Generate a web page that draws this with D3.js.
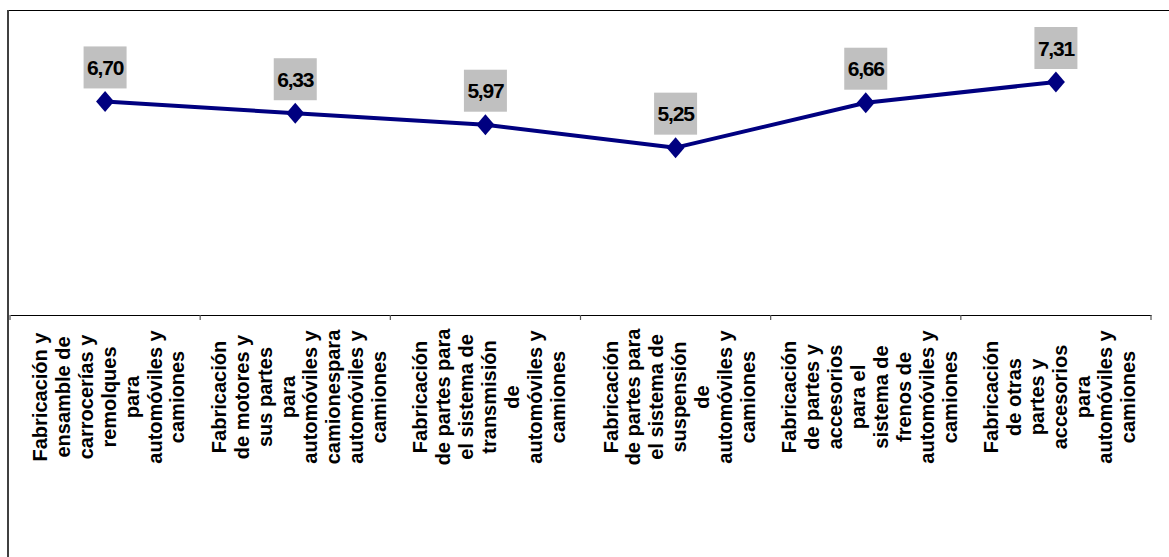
<!DOCTYPE html>
<html>
<head>
<meta charset="utf-8">
<script src="https://cdn.jsdelivr.net/npm/d3@7"></script>
<style>
  html, body { margin: 0; padding: 0; background: #ffffff; }
  svg { display: block; }
</style>
</head>
<body>
<svg id="chart" width="1169" height="557"></svg>
<script>
const categories = [
  ["Fabricación y", "ensamble de", "carrocerías y", "remolques", "para", "automóviles y", "camiones"],
  ["Fabricación", "de motores y", "sus partes", "para", "automóviles y", "camionespara", "automóviles y", "camiones"],
  ["Fabricación", "de partes para", "el sistema de", "transmisión", "de", "automóviles y", "camiones"],
  ["Fabricación", "de partes para", "el sistema de", "suspensión", "de", "automóviles y", "camiones"],
  ["Fabricación", "de partes y", "accesorios", "para el", "sistema de", "frenos de", "automóviles y", "camiones"],
  ["Fabricación", "de otras", "partes y", "accesorios", "para", "automóviles y", "camiones"]
];
const values = [6.70, 6.33, 5.97, 5.25, 6.66, 7.31];
const valueLabels = ["6,70", "6,33", "5,97", "5,25", "6,66", "7,31"];

const svg = d3.select("#chart");
const font = "'Liberation Sans', Arial, sans-serif";

// outer frame
svg.append("line").attr("x1", 8).attr("x2", 1169).attr("y1", 10.5).attr("y2", 10.5)
  .attr("stroke", "#000").attr("stroke-width", 1.2);
svg.append("line").attr("x1", 8).attr("x2", 8).attr("y1", 10).attr("y2", 557)
  .attr("stroke", "#404040").attr("stroke-width", 2);

const idx = d3.range(categories.length);
const x = d3.scaleBand().domain(idx).range([10, 1151]).padding(0);
const y = d3.scaleLinear().domain([0, 8]).range([315, 60]);

// category axis
const axis = d3.axisBottom(x).tickSize(0).tickFormat("");
const axG = svg.append("g").attr("transform", "translate(0,315)").call(axis);
axG.select(".domain").attr("stroke", "#000").attr("stroke-width", 1.2);
// tick marks at band boundaries
const bounds = idx.map(i => x(i)).concat([x(idx[idx.length - 1]) + x.bandwidth()]);
axG.selectAll("line.bound").data(bounds).enter().append("line")
  .attr("class", "bound")
  .attr("x1", d => d).attr("x2", d => d)
  .attr("y1", 0).attr("y2", 5)
  .attr("stroke", "#555").attr("stroke-width", 1.2);

// category labels (rotated)
const lineH = 22.9;
categories.forEach((lines, i) => {
  const cx = x(i) + x.bandwidth() / 2 + 3.5;
  const n = lines.length;
  lines.forEach((t, j) => {
    const off = (j - (n - 1) / 2) * lineH;
    svg.append("text")
      .attr("transform", `translate(${cx + off},397) rotate(-90)`)
      .attr("text-anchor", "middle")
      .attr("dy", "0.36em")
      .attr("font-family", font)
      .attr("font-weight", "bold")
      .attr("font-size", 20)
      .attr("fill", "#000")
      .text(t);
  });
});

// line
const cxOf = i => x(i) + x.bandwidth() / 2;
const lineGen = d3.line().x((d, i) => cxOf(i)).y(d => y(d));
svg.append("path").datum(values)
  .attr("d", lineGen)
  .attr("fill", "none")
  .attr("stroke", "#000080")
  .attr("stroke-width", 4)
  .attr("stroke-linejoin", "round");

// diamond markers
svg.selectAll("path.marker").data(values).enter().append("path")
  .attr("class", "marker")
  .attr("d", (d, i) => {
    const px = cxOf(i), py = y(d);
    return `M${px},${py - 10.5}L${px + 9},${py}L${px},${py + 10.5}L${px - 9},${py}Z`;
  })
  .attr("fill", "#000080");

// data labels
const lab = svg.selectAll("g.lab").data(values).enter().append("g")
  .attr("class", "lab")
  .attr("transform", (d, i) => `translate(${cxOf(i)},${y(d) - 34})`);
lab.append("rect")
  .attr("x", -21.5).attr("y", -21).attr("width", 43).attr("height", 42)
  .attr("fill", "#c0c0c0");
lab.append("text")
  .attr("text-anchor", "middle")
  .attr("dy", "0.36em")
  .attr("font-family", font)
  .attr("font-weight", "bold")
  .attr("font-size", 21)
  .attr("letter-spacing", -1.2)
  .attr("fill", "#000")
  .text((d, i) => valueLabels[i]);
</script>
</body>
</html>
